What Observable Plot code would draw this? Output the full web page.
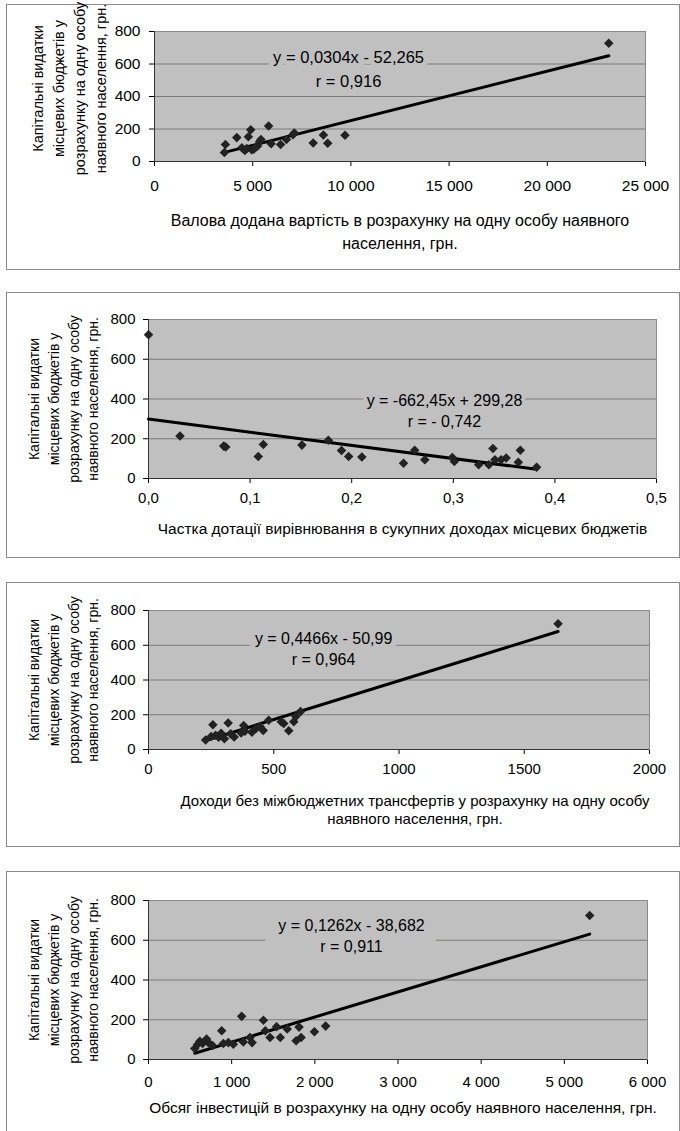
<!DOCTYPE html>
<html><head><meta charset="utf-8">
<script src="https://cdn.jsdelivr.net/npm/d3@7"></script>
<script src="https://cdn.jsdelivr.net/npm/@observablehq/plot@0.6"></script>
<style>
body{margin:0;background:#fff;font-family:"Liberation Sans",Arial,sans-serif;}
#root{position:relative;width:680px;height:1131px;overflow:hidden;}
.box{position:absolute;left:6px;width:674px;border:1px solid #8a8a8a;box-sizing:border-box;background:#fff;}
.panel{position:absolute;left:0;}
.panel svg{overflow:visible;}
</style></head><body><div id="root"></div>
<script>
// ---- shared ----
const yTitle = "Капітальні видатки\nмісцевих бюджетів у\nрозрахунку на одну особу\nнаявного населення, грн.";
const yTicks = [0, 200, 400, 600, 800];
const yTickLabels = ["0", "200", "400", "600", "800"];

// ---- panel 1: gross value added per capita ----
const gvaX = [3560, 3610, 4190, 4450, 4600, 4700, 4780, 4900, 4950, 5050, 5150, 5250, 5350, 5420, 5810, 5940, 6420, 6720, 7050, 7120, 8080, 8600, 8820, 9700, 23130];
const gvaY = [55, 105, 147, 85, 68, 80, 152, 196, 72, 75, 88, 95, 122, 135, 218, 110, 105, 136, 165, 175, 114, 163, 112, 162, 728];
const gvaTicks = [0, 5000, 10000, 15000, 20000, 25000];
const gvaTickLabels = ["0", "5 000", "10 000", "15 000", "20 000", "25 000"];
const gvaTitle = "Валова додана вартість в розрахунку на одну особу наявного\nнаселення, грн.";
const gvaEq = "y = 0,0304x - 52,265";
const gvaR = "r = 0,916";
const gvaFit = [0.0304, -52.265];

// ---- panel 2: share of equalization subsidy ----
const subX = [0, 0.031, 0.074, 0.076, 0.108, 0.113, 0.151, 0.177, 0.190, 0.197, 0.210, 0.251, 0.262, 0.272, 0.299, 0.301, 0.325, 0.335, 0.339, 0.341, 0.347, 0.352, 0.364, 0.366, 0.382];
const subY = [723, 214, 163, 158, 111, 171, 168, 192, 141, 111, 108, 77, 142, 94, 106, 86, 69, 69, 151, 94, 94, 103, 82, 142, 57];
const subTicks = [0, 0.1, 0.2, 0.3, 0.4, 0.5];
const subTickLabels = ["0,0", "0,1", "0,2", "0,3", "0,4", "0,5"];
const subTitle = "Частка дотації вирівнювання в сукупних доходах місцевих бюджетів";
const subEq = "y = -662,45x + 299,28";
const subR = "r = - 0,742";
const subFit = [-662.45, 299.28];

// ---- panel 3: own revenues per capita ----
const revX = [228, 250, 257, 268, 280, 290, 303, 318, 328, 342, 370, 380, 385, 413, 428, 445, 458, 480, 530, 540, 560, 580, 588, 607, 1635];
const revY = [55, 75, 142, 82, 70, 94, 62, 152, 90, 72, 95, 138, 105, 100, 120, 132, 110, 168, 160, 150, 108, 160, 190, 218, 724];
const revTicks = [0, 500, 1000, 1500, 2000];
const revTickLabels = ["0", "500", "1000", "1500", "2000"];
const revTitle = "Доходи без міжбюджетних трансфертів у розрахунку на одну особу\nнаявного населення, грн.";
const revEq = "y = 0,4466x - 50,99";
const revR = "r = 0,964";
const revFit = [0.4466, -50.99];

// ---- panel 4: investment per capita ----
const invX = [556, 590, 617, 650, 698, 720, 770, 880, 900, 960, 1020, 1120, 1140, 1220, 1245, 1382, 1405, 1462, 1540, 1585, 1668, 1775, 1810, 1835, 1995, 2130, 5305];
const invY = [55, 75, 92, 80, 103, 85, 70, 145, 80, 85, 77, 217, 88, 111, 85, 197, 145, 111, 165, 111, 154, 94, 163, 111, 140, 168, 725];
const invTicks = [0, 1000, 2000, 3000, 4000, 5000, 6000];
const invTickLabels = ["0", "1 000", "2 000", "3 000", "4 000", "5 000", "6 000"];
const invTitle = "Обсяг інвестицій в розрахунку на одну особу наявного населення, грн.";
const invEq = "y = 0,1262x - 38,682";
const invR = "r = 0,911";
const invFit = [0.1262, -38.682];

const panels = [
  {x: gvaX, y: gvaY, ticks: gvaTicks, tickLabels: gvaTickLabels, title: gvaTitle, eq: gvaEq, r: gvaR, fit: gvaFit,
   L: {boxTop: 4, boxBottom: 269, pl: 154, pr: 645, pt: 31, pb: 161, tick: 15.5, xPad: 13, yPad: 9,
       eqFont: 16.5, eqX: 9880, eqY1: 640, eqY2: 492, halo1: 10, halo2: 8,
       xtFont: 16, xtLH: 1.45, xtDy: 68.5, xtDx: 0, ytX: 67, ytFont: 14.5, ytLH: 1.45, ytDy: -8}},
  {x: subX, y: subY, ticks: subTicks, tickLabels: subTickLabels, title: subTitle, eq: subEq, r: subR, fit: subFit,
   L: {boxTop: 292, boxBottom: 557, pl: 148, pr: 656, pt: 319, pb: 478, tick: 15, xPad: 8.5, yPad: 8,
       eqFont: 16, eqX: 0.2913, eqY1: 390, eqY2: 287, halo1: 8, halo2: 8,
       xtFont: 15.5, xtLH: 1.2, xtDy: 50, xtDx: 0, ytX: 62, ytFont: 14, ytLH: 1.4, ytDy: 0}},
  {x: revX, y: revY, ticks: revTicks, tickLabels: revTickLabels, title: revTitle, eq: revEq, r: revR, fit: revFit,
   L: {boxTop: 582, boxBottom: 846, pl: 148, pr: 649, pt: 610, pb: 749, tick: 15, xPad: 8.5, yPad: 8,
       eqFont: 16, eqX: 699, eqY1: 639, eqY2: 518, halo1: 12, halo2: 8,
       xtFont: 15, xtLH: 1.2, xtDy: 60, xtDx: 16, ytX: 62, ytFont: 14, ytLH: 1.4, ytDy: 0}},
  {x: invX, y: invY, ticks: invTicks, tickLabels: invTickLabels, title: invTitle, eq: invEq, r: invR, fit: invFit,
   L: {boxTop: 871, boxBottom: 1141, pl: 148, pr: 647, pt: 900, pb: 1059, tick: 15, xPad: 11.5, yPad: 8,
       eqFont: 16, eqX: 2441, eqY1: 674, eqY2: 569, halo1: 30, halo2: 8,
       xtFont: 15.5, xtLH: 1.2, xtDy: 48, xtDx: 5, ytX: 62, ytFont: 14, ytLH: 1.4, ytDy: 0}}
];

const fam = '"Liberation Sans", Arial, sans-serif';
const root = document.getElementById("root");

function makePanel(d) {
  const L = d.L;
  const h = L.boxBottom - L.boxTop;
  const pts = d.x.map((x, i) => ({x, y: d.y[i]}));
  const ext = d3.extent(d.x);
  const fitPts = ext.map(x => ({x, y: d.fit[0] * x + d.fit[1]}));
  const xLab = new Map(d.ticks.map((t, i) => [t, d.tickLabels[i]]));
  const yLab = new Map(yTicks.map((t, i) => [t, yTickLabels[i]]));
  const grid = yTicks.slice(1, -1);
  const xDomain = [d.ticks[0], d.ticks[d.ticks.length - 1]];
  const halo = (w) => ({fill: "#000", stroke: "#c0c0c0", strokeWidth: w, paintOrder: "stroke", strokeLinejoin: "round"});
  return Plot.plot({
    width: 680, height: h,
    marginLeft: L.pl, marginRight: 680 - L.pr,
    marginTop: L.pt - L.boxTop, marginBottom: L.boxBottom - L.pb,
    style: {fontFamily: fam, fontSize: L.tick + "px", color: "#000", background: "transparent", overflow: "visible"},
    x: {domain: xDomain, ticks: d.ticks, tickFormat: t => xLab.get(t), tickSize: 5, tickPadding: L.xPad, label: null},
    y: {domain: [yTicks[0], yTicks[yTicks.length - 1]], ticks: yTicks, tickFormat: t => yLab.get(t), tickSize: 5, tickPadding: L.yPad, label: null},
    marks: [
      Plot.frame({fill: "#c0c0c0", stroke: "#8a8a8a"}),
      Plot.ruleY(grid, {stroke: "#7a7a7a", strokeWidth: 1}),
      Plot.ruleX([xDomain[0]], {stroke: "#333"}),
      Plot.ruleY([yTicks[0]], {stroke: "#333"}),
      Plot.text([d.eq], {text: t => t, x: L.eqX, y: L.eqY1, fontSize: L.eqFont, ...halo(L.halo1)}),
      Plot.text([d.r], {text: t => t, x: L.eqX, y: L.eqY2, fontSize: L.eqFont, ...halo(L.halo2)}),
      Plot.line(fitPts, {x: "x", y: "y", stroke: "#000", strokeWidth: 3}),
      Plot.dot(pts, {x: "x", y: "y", symbol: "diamond2", r: 4.3, fill: "#222", stroke: "none"}),
      Plot.text([yTitle], {text: t => t, frameAnchor: "left", dx: L.ytX - L.pl, dy: L.ytDy, rotate: -90,
        textAnchor: "middle", lineAnchor: "middle", lineHeight: L.ytLH, fontSize: L.ytFont, fill: "#000"}),
      Plot.text([d.title], {text: t => t, frameAnchor: "bottom", dx: L.xtDx, dy: L.xtDy,
        textAnchor: "middle", lineAnchor: "middle", lineHeight: L.xtLH, fontSize: L.xtFont, fill: "#000"})
    ]
  });
}

for (const d of panels) {
  const box = document.createElement("div");
  box.className = "box";
  box.style.top = d.L.boxTop + "px";
  box.style.height = (d.L.boxBottom - d.L.boxTop + 1) + "px";
  root.appendChild(box);
  const holder = document.createElement("div");
  holder.className = "panel";
  holder.style.top = d.L.boxTop + "px";
  holder.appendChild(makePanel(d));
  root.appendChild(holder);
}
</script></body></html>
